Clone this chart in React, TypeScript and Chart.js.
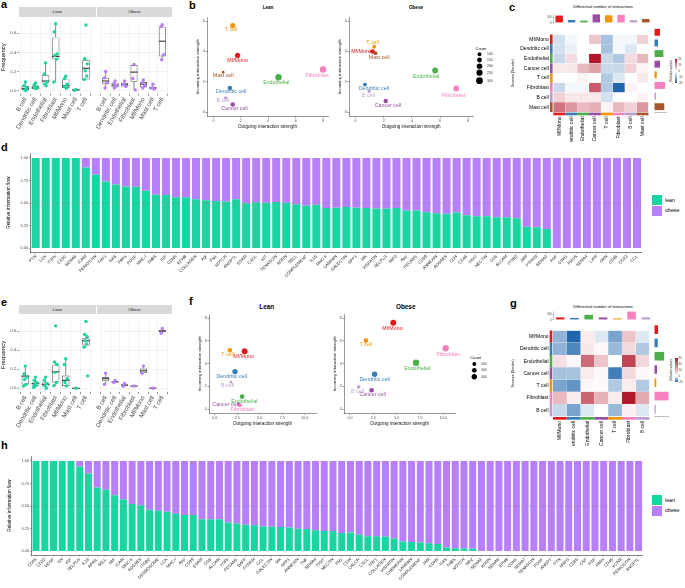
import React, { useEffect, useRef } from "react";
import { Chart, registerables } from "chart.js";
Chart.register(...registerables);

const FONT = "'Liberation Sans', Arial, Helvetica, sans-serif";
Chart.defaults.font.family = FONT;
Chart.defaults.color = "#4d4d4d";

// ---------------- data ----------------
const LEAN_COLOR = "#1ad5a1";
const OBESE_COLOR = "#b77ffa";

const boxCells = ["B cell", "Dendritic cell", "Endothelial", "Fibroblast", "Mf/Mono", "Mast cell", "T cell"];
const freqTicks = [0, 0.2, 0.4, 0.6];

// [min, q1, median, q3, max]
const aLeanBox = [
  [0.0, 0.007, 0.02, 0.047, 0.09],
  [0.02, 0.02, 0.027, 0.05, 0.08],
  [0.05, 0.073, 0.1, 0.16, 0.29],
  [0.09, 0.327, 0.357, 0.557, 0.7],
  [0.017, 0.027, 0.05, 0.117, 0.15],
  [0.0, 0.0, 0.007, 0.013, 0.013],
  [0.107, 0.117, 0.233, 0.317, 0.333],
];
const aLeanPts = [
  [0.09, 0.05, 0.027, 0.007, 0.0],
  [0.08, 0.06, 0.04, 0.027, 0.02],
  [0.29, 0.173, 0.09, 0.067, 0.05],
  [0.7, 0.617, 0.383, 0.367, 0.327, 0.09],
  [0.15, 0.123, 0.067, 0.043, 0.023],
  [0.01, 0.003],
  [0.687, 0.333, 0.28, 0.207, 0.153, 0.117],
];
const aObeseBox = [
  [0.027, 0.067, 0.1, 0.133, 0.2],
  [0.027, 0.033, 0.057, 0.083, 0.1],
  [0.043, 0.043, 0.067, 0.083, 0.1],
  [0.007, 0.093, 0.193, 0.267, 0.273],
  [0.027, 0.033, 0.067, 0.09, 0.11],
  [0.017, 0.017, 0.027, 0.04, 0.067],
  [0.323, 0.357, 0.517, 0.67, 0.69],
];
const aObesePts = [
  [0.2, 0.133, 0.083, 0.027],
  [0.1, 0.073, 0.05, 0.027],
  [0.1, 0.067, 0.043],
  [0.273, 0.127, 0.007],
  [0.11, 0.083, 0.05, 0.027],
  [0.067, 0.027, 0.017],
  [0.69, 0.67, 0.377, 0.323],
];
const eLeanBox = [
  [0.023, 0.04, 0.127, 0.133, 0.233],
  [0.007, 0.027, 0.05, 0.06, 0.117],
  [0.0, 0.017, 0.04, 0.06, 0.117],
  [0.027, 0.06, 0.173, 0.243, 0.277],
  [0.017, 0.023, 0.083, 0.133, 0.31],
  [0.0, 0.0, 0.0, 0.0, 0.0],
  [0.433, 0.45, 0.5, 0.527, 0.567],
];
const eLeanPts = [
  [0.233, 0.15, 0.117, 0.093, 0.04, 0.023],
  [0.117, 0.083, 0.06, 0.04, 0.027, 0.007],
  [0.117, 0.083, 0.05, 0.027, 0.0],
  [0.657, 0.277, 0.25, 0.167, 0.06, 0.027],
  [0.31, 0.25, 0.1, 0.06, 0.023],
  [0.0],
  [0.703, 0.567, 0.543, 0.5, 0.467, 0.433, 0.13],
];
const eObeseBox = [
  [0.04, 0.073, 0.1, 0.117, 0.157],
  [0.06, 0.06, 0.067, 0.073, 0.083],
  [0.02, 0.023, 0.033, 0.04, 0.05],
  [0.02, 0.02, 0.023, 0.027, 0.027],
  [0.157, 0.157, 0.183, 0.207, 0.233],
  [0.0, 0.0, 0.0, 0.0, 0.0],
  [0.58, 0.593, 0.603, 0.613, 0.63],
];
const eObesePts = [
  [0.157, 0.04],
  [0.083, 0.06],
  [0.05, 0.02],
  [0.023],
  [0.233, 0.157],
  [0.0],
  [0.63, 0.58],
];

const cellTypes = ["Mf/Mono", "Dendritic cell", "Endothelial", "Cancer cell", "T cell", "Fibroblast", "B cell", "Mast cell"];
const cellColors = ["#E41A1C", "#377EB8", "#4DAF4A", "#984EA3", "#F29403", "#F781BF", "#BC9DCC", "#A65628"];
const gCellTypes = ["Mf/Mono", "Dendritic cell", "Endothelial", "Cancer cell", "T cell", "Fibroblast", "B cell"];
const gCellColors = ["#E41A1C", "#377EB8", "#4DAF4A", "#984EA3", "#F29403", "#F781BF", "#BC9DCC"];

const bLeanOut = [1.76, 1.2, 4.75, 1.41, 1.41, 8.0, 0.89, 0.71];
const bLeanIn = [3.74, 1.59, 2.3, 0.51, 5.71, 2.81, 0.95, 2.64];
const bLeanCount = [180, 135, 280, 135, 180, 280, 70, 45];
const bObeseOut = [1.2, 0.66, 5.65, 2.14, 1.32, 7.15, 0.96, 1.41];
const bObeseIn = [4.0, 1.82, 2.75, 0.74, 4.31, 1.56, 1.37, 3.89];
const bObeseCount = [135, 100, 225, 135, 100, 225, 70, 100];
const bCountLegend = [100, 150, 200, 250, 300];
const bXTicks = [0, 2, 4, 6, 8];
const bYTicks = [0, 2, 4, 6];

const fLeanOut = [3.32, 2.25, 3.04, 2.68, 1.68, 2.79, 1.79];
const fLeanIn = [5.1, 3.3, 1.1, 0.42, 5.18, 0.34, 2.37];
const fLeanCount = [480, 400, 300, 150, 300, 220, 100];
const fObeseOut = [4.64, 2.64, 7.07, 2.32, 1.71, 10.25, 0.93];
const fObeseIn = [7.6, 3.07, 4.08, 1.66, 6.03, 5.35, 1.94];
const fObeseCount = [480, 400, 560, 300, 300, 560, 180];
const fCountLegend = [200, 300, 400];
const fXTicks = [0, 2.5, 5, 7.5, 10];
const fYTicks = [0, 2, 4, 6, 8];

// heatmap values (rows = sources, cols = receivers)
const cMatrix = [
  [-4, -1, 0, 5, -8, -1, -1, 4],
  [-4, -2, 0, 0, -8, -1, -3, 0],
  [-5, 3, 0, 20, -5, -7, 3, 6],
  [2, 2, 6, 8, -5, -5, 4, 1],
  [0, 0, 1, 0, -7, -3, 0, 2],
  [-5, -1, -1, 14, -7, -20, 1, 0],
  [4, 2, 2, 2, -4, 0, 0, 1],
  [12, 9, 6, 7, 1, 6, 4, 9],
];
const cColTotals = [133, 54, 42, 154, 137, 146, 50, 71];
const cRowTotals = [46, 31, 72, 46, 21, 85, 15, 79];
const cLegendTicks = [20, 10, 0, -10, -20];

const gMatrix = [
  [-10, -20, 5, -3, -12, 15, -3],
  [-10, -16, 6, 2, -9, 10, -7],
  [8, 2, 38, 15, 0, 48, 10],
  [-8, -8, 5, 2, -17, 10, 2],
  [-12, -14, 2, 2, -7, 5, -7],
  [18, 5, 40, 20, 5, 60, 22],
  [-5, -12, -3, 0, -9, 4, -3],
];
const gColTotals = [43, 34, 86, 43, 26, 141, 43];
const gRowTotals = [42, 39, 105, 32, 24, 150, 18];
const gLegendTicks = [60, 40, 20, 0, -20];

const dLabels = ["PTN", "LCK", "TGFb", "CX3C", "SEMA6", "ICAM", "PERIOSTIN", "THY1", "GAS", "PARs", "PDGF", "MHC-I", "THBS", "IGF", "CDH5", "EPHB", "COLLAGEN", "Agt", "FN1", "NOTCH", "ANGPTL", "ESAM", "CXCL", "KIT", "TENASCIN", "AGRN", "SELL", "COMPLEMENT", "IL16", "MHC-II", "LAMININ", "GALECTIN", "SPP1", "MK", "VISFATIN", "SELPLG", "MIF2", "App", "PECAM1", "CD99", "ANNEXIN", "ADGRE5", "CDH", "CD46", "TIGIT", "NECTIN", "CD6", "ALCAM", "ITGB2", "JAM", "PTPRM", "SEMA3", "FGF", "CDH1", "PROS", "SEMA4", "LIFR", "GRN", "CD45", "CD22", "CCL"];
const dLean = [1, 1, 1, 1, 1, 0.894, 0.816, 0.738, 0.706, 0.684, 0.68, 0.638, 0.592, 0.589, 0.564, 0.564, 0.543, 0.532, 0.525, 0.518, 0.543, 0.5, 0.511, 0.504, 0.514, 0.504, 0.489, 0.472, 0.482, 0.447, 0.45, 0.457, 0.45, 0.447, 0.44, 0.44, 0.447, 0.418, 0.42, 0.4, 0.387, 0.383, 0.397, 0.365, 0.355, 0.355, 0.344, 0.344, 0.333, 0.238, 0.234, 0.213, 0, 0, 0, 0, 0, 0, 0, 0, 0];

const hLabels = ["CD45", "CD22", "VEGF", "SN", "IGF", "SELPLG", "IL16", "APRIL", "SELL", "MIF", "ICAM", "MHC-II", "ADGRE5", "ITGB2", "DESMOSOME", "LCK", "MHC-I", "App", "CD99", "ESAM", "CD6", "ALCAM", "TGFb", "PECAM1", "BAFF", "PTPRM", "CCL", "GALECTIN", "MK", "SPP1", "ANNEXIN", "TNF", "SEMA4", "TIGIT", "NECTIN", "FN1", "CDH", "CALCR", "CXCL", "THY1", "COLLAGEN", "VISFATIN", "CHEMERIN", "LAMININ", "COMPLEMENT", "JAM", "CDH5", "GAS", "THBS", "NOTCH", "MPZ", "SEMA3", "AGRN", "SEMA6", "EPHB", "CDH1", "SEMA7", "TENASCIN", "PDGF", "ANGPT", "PTN", "HSPG", "CD86", "CSF", "FGF", "PARs", "CD46", "VCAM", "PERIOSTIN", "ANGPTL"];
const hLean = [1, 1, 1, 1, 1, 0.939, 0.86, 0.706, 0.681, 0.62, 0.573, 0.523, 0.509, 0.459, 0.448, 0.437, 0.416, 0.401, 0.401, 0.355, 0.355, 0.355, 0.319, 0.308, 0.294, 0.29, 0.276, 0.272, 0.269, 0.265, 0.251, 0.247, 0.233, 0.226, 0.226, 0.204, 0.208, 0.183, 0.168, 0.168, 0.161, 0.143, 0.108, 0.104, 0.097, 0.09, 0.082, 0.043, 0.036, 0.032, 0.029, 0, 0, 0, 0, 0, 0, 0, 0, 0, 0, 0, 0, 0, 0, 0, 0, 0, 0, 0];
const flowTicks = [0, 0.25, 0.5, 0.75, 1];

// label offsets for point labels (style, px)
const bLeanLabelOff = [[0, 5], [1.3, 3.7], [-2.3, 5.7], [1.7, 4], [-1.7, 3.7], [-6, 6], [-2.7, 2.7], [0, 3.3]];
const bObeseLabelOff = [[-11, 0], [9, 4], [-9, 5.7], [2.3, 5], [-1.7, -4.3], [-2.7, 6.7], [-0.7, 4], [3.7, 4]];
const fLeanLabelOff = [[-1, 5.7], [-3.3, 5], [2.3, 5], [-13.3, 0.3], [-2.3, 4.7], [2.3, 4.3], [-3.3, 3]];
const fObeseLabelOff = [[-1, 6], [0, 5.3], [1.3, 5.7], [1, 4], [0, 4.3], [2.7, 6], [-1.3, 4]];

// ---------------- helpers ----------------
const base = () => ({
  animation: false,
  responsive: false,
  maintainAspectRatio: false,
  events: [],
  plugins: { legend: { display: false }, tooltip: { enabled: false }, title: { display: false } },
});

function divColor(v: number, vmin: number, vmax: number) {
  const blue = [33, 102, 172];
  const red = [178, 24, 43];
  const t = v >= 0 ? Math.min(1, v / vmax) : Math.min(1, v / vmin);
  const c = v >= 0 ? red : blue;
  const m = [0, 1, 2].map((k) => Math.round(255 + (c[k] - 255) * t));
  return `rgb(${m[0]},${m[1]},${m[2]})`;
}

function boxConfig(box: number[][], pts: number[][], color: string, showY: boolean, yMin: number, yMax: number, yAxisW: number, xAxisH: number, padLeft: number): any {
  const jit = [0, -0.13, 0.13, -0.07, 0.07, -0.18, 0.18];
  const pointData: { x: number; y: number }[] = [];
  pts.forEach((arr, i) => arr.forEach((v, k) => pointData.push({ x: i + jit[k % jit.length], y: v })));
  const whiskers = {
    id: "whiskers",
    beforeDatasetsDraw(chart: any) {
      const { ctx } = chart;
      const x = chart.scales.x;
      const y = chart.scales.y;
      const meta = chart.getDatasetMeta(1);
      ctx.save();
      box.forEach((b, i) => {
        const px = x.getPixelForValue(i);
        const bw = meta.data[i] ? meta.data[i].width : 8;
        ctx.strokeStyle = "#555";
        ctx.lineWidth = 0.7;
        ctx.beginPath();
        ctx.moveTo(px, y.getPixelForValue(b[4]));
        ctx.lineTo(px, y.getPixelForValue(b[3]));
        ctx.moveTo(px, y.getPixelForValue(b[1]));
        ctx.lineTo(px, y.getPixelForValue(b[0]));
        ctx.stroke();
        ctx.strokeStyle = "#333";
        ctx.lineWidth = 1.1;
        const my = y.getPixelForValue(b[2]);
        ctx.beginPath();
        ctx.moveTo(px - bw / 2, my);
        ctx.lineTo(px + bw / 2, my);
        ctx.stroke();
      });
      ctx.restore();
    },
  };
  return {
    type: "bar",
    data: {
      datasets: [
        { type: "scatter", data: pointData, backgroundColor: color, pointRadius: 1.7, borderWidth: 0, order: 0 },
        {
          type: "bar",
          data: box.map((b, i) => ({ x: i, y: [b[1], b[3]] })),
          backgroundColor: "rgba(255,255,255,0)",
          borderColor: "#555",
          borderWidth: 0.7,
          borderSkipped: false,
          barPercentage: 1,
          categoryPercentage: 0.75,
          order: 1,
        },
      ],
    },
    options: {
      ...base(),
      layout: { padding: { left: padLeft, right: 0, top: 0, bottom: 0 } },
      scales: {
        x: {
          type: "linear",
          min: -0.6,
          max: 6.6,
          offset: false,
          afterBuildTicks: (s: any) => { s.ticks = boxCells.map((_, i) => ({ value: i })); },
          afterFit: (s: any) => { s.height = xAxisH; },
          ticks: { autoSkip: false, minRotation: 60, maxRotation: 60, padding: 0.5, font: { size: 6.2 }, color: "#4d4d4d", callback: (v: any) => boxCells[Math.round(v)] },
          grid: { color: "#ebebeb", lineWidth: 0.6, tickLength: 2, tickColor: "#4d4d4d", tickWidth: 0.6 },
          border: { display: false },
        },
        y: {
          type: "linear",
          min: yMin,
          max: yMax,
          afterBuildTicks: (s: any) => { s.ticks = freqTicks.map((v) => ({ value: v })); },
          afterFit: (s: any) => { s.width = yAxisW; },
          ticks: { display: showY, font: { size: 4.3 }, color: "#4d4d4d", padding: 1, callback: (v: any) => Number(v).toFixed(1) },
          grid: { color: "#ebebeb", lineWidth: 0.6, drawTicks: showY, tickLength: 2, tickColor: "#4d4d4d", tickWidth: 0.6 },
          border: { display: false },
          title: { display: showY, text: "Frequency", font: { size: 6 }, color: "#000", padding: 0 },
        },
      },
    },
    plugins: [whiskers],
  };
}

type ScatterOpts = {
  names: string[]; colors: string[]; xs: number[]; ys: number[]; counts: number[]; offsets: number[][];
  rK: number; xMin: number; xMax: number; yMin: number; yMax: number; xTicks: number[]; yTicks: number[];
  xFmt: (v: number) => string; yAxisW: number; xAxisH: number; padRight: number; labelSize: number;
  legend?: { counts: number[]; x: number; titleY: number; ys: number[]; labelX: number };
};

function scatterConfig(o: ScatterOpts): any {
  const radius = o.counts.map((c) => o.rK * Math.sqrt(c));
  const labels = {
    id: "ptlabels",
    afterDatasetsDraw(chart: any) {
      const { ctx } = chart;
      const x = chart.scales.x;
      const y = chart.scales.y;
      ctx.save();
      ctx.font = `${o.labelSize}px ${FONT}`;
      ctx.textAlign = "center";
      ctx.textBaseline = "middle";
      o.names.forEach((n, i) => {
        ctx.fillStyle = o.colors[i];
        ctx.fillText(n, x.getPixelForValue(o.xs[i]) + o.offsets[i][0], y.getPixelForValue(o.ys[i]) + o.offsets[i][1]);
      });
      ctx.restore();
    },
  };
  const sizeLegend = {
    id: "sizeLegend",
    afterDraw(chart: any) {
      if (!o.legend) return;
      const L = o.legend;
      const { ctx } = chart;
      ctx.save();
      ctx.fillStyle = "#000";
      ctx.font = `4px ${FONT}`;
      ctx.textAlign = "left";
      ctx.textBaseline = "alphabetic";
      ctx.fillText("Count", L.x - 4, L.titleY);
      ctx.font = `3.4px ${FONT}`;
      ctx.textBaseline = "middle";
      L.counts.forEach((c, i) => {
        ctx.fillStyle = "#000";
        ctx.beginPath();
        ctx.arc(L.x, L.ys[i], o.rK * Math.sqrt(c), 0, Math.PI * 2);
        ctx.fill();
        ctx.fillStyle = "#333";
        ctx.fillText(String(c), L.labelX, L.ys[i]);
      });
      ctx.restore();
    },
  };
  const axisCommon = {
    grid: { drawOnChartArea: false, tickLength: 1.5, tickColor: "#333", tickWidth: 0.5 },
    border: { color: "#333", width: 0.5 },
  };
  return {
    type: "scatter",
    data: {
      datasets: [{ data: o.xs.map((x, i) => ({ x, y: o.ys[i] })), backgroundColor: o.colors, pointRadius: radius, borderWidth: 0, clip: false }],
    },
    options: {
      ...base(),
      layout: { padding: { left: 0, right: o.padRight, top: 0, bottom: 0 } },
      scales: {
        x: {
          type: "linear", min: o.xMin, max: o.xMax,
          afterBuildTicks: (s: any) => { s.ticks = o.xTicks.map((v) => ({ value: v })); },
          afterFit: (s: any) => { s.height = o.xAxisH; },
          ticks: { font: { size: 3.6 }, color: "#4d4d4d", padding: 0.8, maxRotation: 0, callback: (v: any) => o.xFmt(Number(v)) },
          title: { display: true, text: "Outgoing interaction strength", font: { size: 4.6 }, color: "#111", padding: { top: 0.3, bottom: 0 } },
          ...axisCommon,
        },
        y: {
          type: "linear", min: o.yMin, max: o.yMax,
          afterBuildTicks: (s: any) => { s.ticks = o.yTicks.map((v) => ({ value: v })); },
          afterFit: (s: any) => { s.width = o.yAxisW; },
          ticks: { font: { size: 3.6 }, color: "#4d4d4d", padding: 0.8, callback: (v: any) => String(v) },
          title: { display: true, text: "Incoming interaction strength", font: { size: 4.3 }, color: "#111", padding: { top: 0, bottom: 0.3 } },
          ...axisCommon,
        },
      },
    },
    plugins: [labels, sizeLegend],
  };
}

function heatConfig(rows: string[], matrix: number[][], rowColors: string[], vmin: number, vmax: number, yAxisW: number, xAxisH: number): any {
  const strips = {
    id: "strips",
    afterDatasetsDraw(chart: any) {
      const { ctx, chartArea } = chart;
      const x = chart.scales.x;
      const y = chart.scales.y;
      const h = (chartArea.bottom - chartArea.top) / rows.length;
      ctx.save();
      rows.forEach((_, i) => {
        ctx.fillStyle = rowColors[i];
        ctx.fillRect(chartArea.left - 3.3, y.getPixelForValue(i) - h / 2, 2.6, h);
        const x0 = x.getPixelForValue(i);
        const x1 = x.getPixelForValue(i + 1);
        ctx.fillRect(x0, chartArea.bottom + 0.6, x1 - x0, 2.7);
      });
      ctx.restore();
    },
  };
  return {
    type: "bar",
    data: {
      labels: rows,
      datasets: rows.map((c, j) => ({
        label: c,
        data: rows.map(() => [j, j + 1]),
        backgroundColor: rows.map((_, i) => divColor(matrix[i][j], vmin, vmax)),
        borderColor: "rgba(255,255,255,0.9)",
        borderWidth: 0.3,
        borderSkipped: false,
        barPercentage: 1,
        categoryPercentage: 1,
        grouped: false,
      })),
    },
    options: {
      ...base(),
      indexAxis: "y",
      layout: { padding: 0 },
      scales: {
        x: {
          type: "linear", min: 0, max: rows.length,
          afterBuildTicks: (s: any) => { s.ticks = rows.map((_, j) => ({ value: j + 0.5 })); },
          afterFit: (s: any) => { s.height = xAxisH; },
          ticks: { autoSkip: false, minRotation: 90, maxRotation: 90, padding: 4.5, font: { size: 5 }, color: "#000", callback: (v: any) => rows[Math.floor(Number(v))] },
          grid: { display: false, drawTicks: false },
          border: { display: false },
        },
        y: {
          type: "category",
          afterFit: (s: any) => { s.width = yAxisW; },
          ticks: { font: { size: 5 }, color: "#000", padding: 4.5 },
          grid: { display: false, drawTicks: false },
          border: { display: false },
          title: { display: true, text: "Sources (Sender)", font: { size: 3.6 }, color: "#000", padding: 0 },
        },
      },
    },
    plugins: [strips],
  };
}

function topBarsConfig(cols: string[], vals: number[], colors: string[], max: number, ticks: number[], yAxisW: number): any {
  return {
    type: "bar",
    data: { labels: cols, datasets: [{ data: vals, backgroundColor: colors, barPercentage: 0.6, categoryPercentage: 1 }] },
    options: {
      ...base(),
      layout: { padding: 0 },
      scales: {
        x: { display: false, offset: true },
        y: {
          min: 0, max,
          afterBuildTicks: (s: any) => { s.ticks = ticks.map((v) => ({ value: v })); },
          afterFit: (s: any) => { s.width = yAxisW; },
          ticks: { font: { size: 2.6 }, color: "#333", padding: 0.5 },
          grid: { drawOnChartArea: false, tickLength: 1, tickColor: "#333", tickWidth: 0.3 },
          border: { color: "#333", width: 0.3 },
        },
      },
    },
  };
}

function rightBarsConfig(rows: string[], vals: number[], colors: string[], max: number, ticks: number[], xAxisH: number): any {
  return {
    type: "bar",
    data: { labels: rows, datasets: [{ data: vals, backgroundColor: colors, barPercentage: 0.65, categoryPercentage: 1 }] },
    options: {
      ...base(),
      indexAxis: "y",
      layout: { padding: 0 },
      scales: {
        y: { display: false, offset: true },
        x: {
          min: 0, max,
          afterBuildTicks: (s: any) => { s.ticks = ticks.map((v) => ({ value: v })); },
          afterFit: (s: any) => { s.height = xAxisH; },
          ticks: { display: false },
          grid: { drawOnChartArea: false, tickLength: 1.2, tickColor: "#333", tickWidth: 0.3 },
          border: { color: "#333", width: 0.3 },
        },
      },
    },
  };
}

function flowConfig(labels: string[], lean: number[], yAxisW: number, xAxisH: number): any {
  const half = {
    id: "half",
    afterDatasetsDraw(chart: any) {
      const { ctx, chartArea } = chart;
      const y = chart.scales.y.getPixelForValue(0.5);
      ctx.save();
      ctx.setLineDash([2, 1.5]);
      ctx.strokeStyle = "rgba(140,140,140,0.75)";
      ctx.lineWidth = 0.6;
      ctx.beginPath();
      ctx.moveTo(chartArea.left, y);
      ctx.lineTo(chartArea.right, y);
      ctx.stroke();
      ctx.restore();
    },
  };
  const axisCommon = {
    grid: { drawOnChartArea: false, offset: false, tickLength: 1.5, tickColor: "#333", tickWidth: 0.5 },
    border: { color: "#333", width: 0.6 },
  };
  return {
    type: "bar",
    data: {
      labels,
      datasets: [
        { label: "lean", data: lean, backgroundColor: LEAN_COLOR, barPercentage: 0.8, categoryPercentage: 1 },
        { label: "obese", data: lean.map((v) => 1 - v), backgroundColor: OBESE_COLOR, barPercentage: 0.8, categoryPercentage: 1 },
      ],
    },
    options: {
      ...base(),
      layout: { padding: 0 },
      scales: {
        x: {
          stacked: true,
          afterFit: (s: any) => { s.height = xAxisH; },
          ticks: { autoSkip: false, minRotation: 45, maxRotation: 45, font: { size: 4.2 }, color: "#222", padding: 0.5 },
          ...axisCommon,
        },
        y: {
          stacked: true, min: -0.04, max: 1.05,
          afterBuildTicks: (s: any) => { s.ticks = flowTicks.map((v) => ({ value: v })); },
          afterFit: (s: any) => { s.width = yAxisW; },
          ticks: { font: { size: 4 }, color: "#4d4d4d", padding: 1, callback: (v: any) => Number(v).toFixed(2) },
          title: { display: true, text: "Relative information flow", font: { size: 4.8 }, color: "#000", padding: { top: 0, bottom: 1 } },
          ...axisCommon,
        },
      },
    },
    plugins: [half],
  };
}

// ---------------- components ----------------
function ChartBox({ x, y, w, h, make }: { x: number; y: number; w: number; h: number; make: () => any }) {
  const ref = useRef<HTMLCanvasElement>(null);
  const W = Math.round(w);
  const H = Math.round(h);
  useEffect(() => {
    const chart = new Chart(ref.current as HTMLCanvasElement, make());
    return () => chart.destroy();
  }, []);
  return <canvas ref={ref} width={W} height={H} style={{ position: "absolute", left: x, top: y, width: W, height: H }} />;
}

function T({ x, y, s, b, a = "l", c = "#000", children }: any) {
  const tx = a === "c" ? "-50%" : a === "r" ? "-100%" : "0";
  return (
    <div style={{ position: "absolute", left: x, top: y - 0.846 * s, fontSize: s, lineHeight: 1, fontWeight: b ? 700 : 400, color: c, whiteSpace: "nowrap", transform: `translateX(${tx})`, fontFamily: FONT }}>
      {children}
    </div>
  );
}

function VT({ x, y, s, children }: any) {
  return (
    <div style={{ position: "absolute", left: x, top: y, fontSize: s, lineHeight: 1, whiteSpace: "nowrap", transform: "translate(-50%,-50%) rotate(-90deg)", fontFamily: FONT, color: "#000" }}>
      {children}
    </div>
  );
}

function Strip({ x, y, w, h, text }: any) {
  return (
    <div style={{ position: "absolute", left: x, top: y, width: w, height: h, background: "#d9d9d9" }}>
      <div style={{ position: "absolute", left: 0, right: 0, top: "50%", transform: "translateY(-50%)", textAlign: "center", fontSize: 4.2, lineHeight: 1, fontFamily: FONT, color: "#1a1a1a" }}>{text}</div>
    </div>
  );
}

function ColorBar({ x, y, w, h, ticks, zeroPct, title, titleX }: any) {
  const top = ticks[0];
  const bot = ticks[ticks.length - 1];
  return (
    <>
      <div style={{ position: "absolute", left: x, top: y, width: w, height: h, background: `linear-gradient(to bottom, rgb(178,24,43), #ffffff ${zeroPct}%, rgb(33,102,172))` }} />
      {ticks.map((v: number) => (
        <div key={v} style={{ position: "absolute", left: x + w + 1, top: y + ((top - v) / (top - bot)) * h, transform: "translateY(-50%)", fontSize: 2.8, lineHeight: 1, fontFamily: FONT, color: "#333" }}>{v}</div>
      ))}
      <VT x={titleX} y={y + h / 2} s={3.2}>{title}</VT>
    </>
  );
}

function FlowLegend({ y }: { y: number }) {
  return (
    <>
      <div style={{ position: "absolute", left: 652.3, top: y, width: 9.4, height: 10, background: LEAN_COLOR }} />
      <div style={{ position: "absolute", left: 652.3, top: y + 10.7, width: 9.4, height: 10, background: OBESE_COLOR }} />
      <T x={665} y={y + 7} s={5.3}>lean</T>
      <T x={665} y={y + 17.7} s={5.3}>obese</T>
    </>
  );
}

export default function App() {
  const fmt0 = (v: number) => String(v);
  const fmt1 = (v: number) => v.toFixed(1);
  return (
    <div style={{ position: "absolute", left: 0, top: 0, width: 685, height: 588, background: "#fff", overflow: "hidden", fontFamily: FONT }}>
      {/* panel letters */}
      <T x={1} y={8.5} s={11} b>a</T>
      <T x={189} y={9.7} s={11} b>b</T>
      <T x={509} y={11.3} s={11} b>c</T>
      <T x={1} y={151.7} s={11} b>d</T>
      <T x={1} y={306.7} s={11} b>e</T>
      <T x={189} y={305} s={11} b>f</T>
      <T x={510} y={307.5} s={11} b>g</T>
      <T x={1} y={449} s={11} b>h</T>

      {/* panel a */}
      <Strip x={19.3} y={7.3} w={76.4} h={9.4} text="Lean" />
      <Strip x={97.3} y={7.3} w={74.4} h={9.4} text="Obese" />
      <ChartBox x={0} y={16.7} w={96} h={117} make={() => boxConfig(aLeanBox, aLeanPts, LEAN_COLOR, true, -0.033, 0.729, 19.3, 40.3, 0)} />
      <ChartBox x={96.3} y={16.7} w={76} h={117} make={() => boxConfig(aObeseBox, aObesePts, OBESE_COLOR, false, -0.033, 0.729, 0, 40.3, 1)} />

      {/* panel e */}
      <Strip x={19.3} y={305} w={76.4} h={9.3} text="Lean" />
      <Strip x={97.3} y={305} w={74.4} h={9.3} text="Obese" />
      <ChartBox x={0} y={314.3} w={96} h={118} make={() => boxConfig(eLeanBox, eLeanPts, LEAN_COLOR, true, -0.04, 0.74, 19.3, 40, 0)} />
      <ChartBox x={96.3} y={314.3} w={76} h={118} make={() => boxConfig(eObeseBox, eObesePts, OBESE_COLOR, false, -0.04, 0.74, 0, 40, 1)} />

      {/* panel b */}
      <T x={268} y={9.5} s={4.6} b a="c">Lean</T>
      <T x={416} y={9.5} s={4.6} b a="c">Obese</T>
      <ChartBox x={195} y={13} w={137} h={116} make={() => scatterConfig({
        names: cellTypes, colors: cellColors, xs: bLeanOut, ys: bLeanIn, counts: bLeanCount, offsets: bLeanLabelOff,
        rK: 0.195, xMin: -0.47, xMax: 8.36, yMin: -0.28, yMax: 6.27, xTicks: bXTicks, yTicks: bYTicks, xFmt: fmt0,
        yAxisW: 12, xAxisH: 12.5, padRight: 0, labelSize: 5.3,
      })} />
      <ChartBox x={337} y={13} w={163} h={116} make={() => scatterConfig({
        names: cellTypes, colors: cellColors, xs: bObeseOut, ys: bObeseIn, counts: bObeseCount, offsets: bObeseLabelOff,
        rK: 0.195, xMin: -0.47, xMax: 8.36, yMin: -0.28, yMax: 6.27, xTicks: bXTicks, yTicks: bYTicks, xFmt: fmt0,
        yAxisW: 12, xAxisH: 12.5, padRight: 26.7, labelSize: 5.3,
        legend: { counts: bCountLegend, x: 142.5, titleY: 37, ys: [41.3, 47, 53.3, 59.7, 67.7], labelX: 150 },
      })} />

      {/* panel f */}
      <T x={266.7} y={309} s={6.4} b a="c">Lean</T>
      <T x={405.7} y={309} s={6.4} b a="c">Obese</T>
      <ChartBox x={197} y={310} w={123} h={116} make={() => scatterConfig({
        names: gCellTypes, colors: gCellColors, xs: fLeanOut, ys: fLeanIn, counts: fLeanCount, offsets: fLeanLabelOff,
        rK: 0.135, xMin: -0.64, xMax: 11.25, yMin: -0.37, yMax: 8.37, xTicks: fXTicks, yTicks: fYTicks, xFmt: fmt1,
        yAxisW: 12, xAxisH: 12.7, padRight: 0, labelSize: 5.3,
      })} />
      <ChartBox x={332} y={310} w={168} h={116} make={() => scatterConfig({
        names: gCellTypes, colors: gCellColors, xs: fObeseOut, ys: fObeseIn, counts: fObeseCount, offsets: fObeseLabelOff,
        rK: 0.135, xMin: -0.64, xMax: 11.25, yMin: -0.37, yMax: 8.37, xTicks: fXTicks, yTicks: fYTicks, xFmt: fmt1,
        yAxisW: 12, xAxisH: 12.7, padRight: 45, labelSize: 5.3,
        legend: { counts: fCountLegend, x: 142.3, titleY: 48.5, ys: [54, 60.3, 66.7], labelX: 149 },
      })} />

      {/* panel c */}
      <T x={603} y={8.5} s={4} a="c">Differential number of interactions</T>
      <ChartBox x={545.3} y={12} w={107.4} h={13.3} make={() => topBarsConfig(cellTypes, cColTotals, cellColors, 160, [0, 50, 100, 150], 8)} />
      <ChartBox x={511} y={26.7} w={142} h={115} make={() => heatConfig(cellTypes, cMatrix, cellColors, -20, 20, 42.3, 30)} />
      <ChartBox x={654} y={26.7} w={13} h={91} make={() => rightBarsConfig(cellTypes, cRowTotals, cellColors, 100, [0, 50, 100], 6)} />
      <ColorBar x={675} y={59} w={2.3} h={24.3} ticks={cLegendTicks} zeroPct={50} title="Relative values" titleX={671.5} />

      {/* panel g */}
      <T x={603} y={308} s={4} a="c">Differential number of interactions</T>
      <ChartBox x={544.7} y={309} w={108} h={12.7} make={() => topBarsConfig(gCellTypes, gColTotals, gCellColors, 150, [0, 50, 100, 150], 8)} />
      <ChartBox x={510.7} y={323.3} w={142} h={123} make={() => heatConfig(gCellTypes, gMatrix, gCellColors, -20, 60, 42, 29.6)} />
      <ChartBox x={654} y={323.3} w={15} h={99.4} make={() => rightBarsConfig(gCellTypes, gRowTotals, gCellColors, 155, [0, 50, 100, 150], 6)} />
      <ColorBar x={674.5} y={357.7} w={3} h={24} ticks={gLegendTicks} zeroPct={75} title="Relative values" titleX={671.5} />

      {/* panel d */}
      <ChartBox x={6} y={150.3} w={636} h={135.4} make={() => flowConfig(dLabels, dLean, 24.7, 33)} />
      <FlowLegend y={195} />

      {/* panel h */}
      <ChartBox x={7} y={453} w={636} h={135} make={() => flowConfig(hLabels, hLean, 24.7, 33)} />
      <FlowLegend y={495} />
    </div>
  );
}
